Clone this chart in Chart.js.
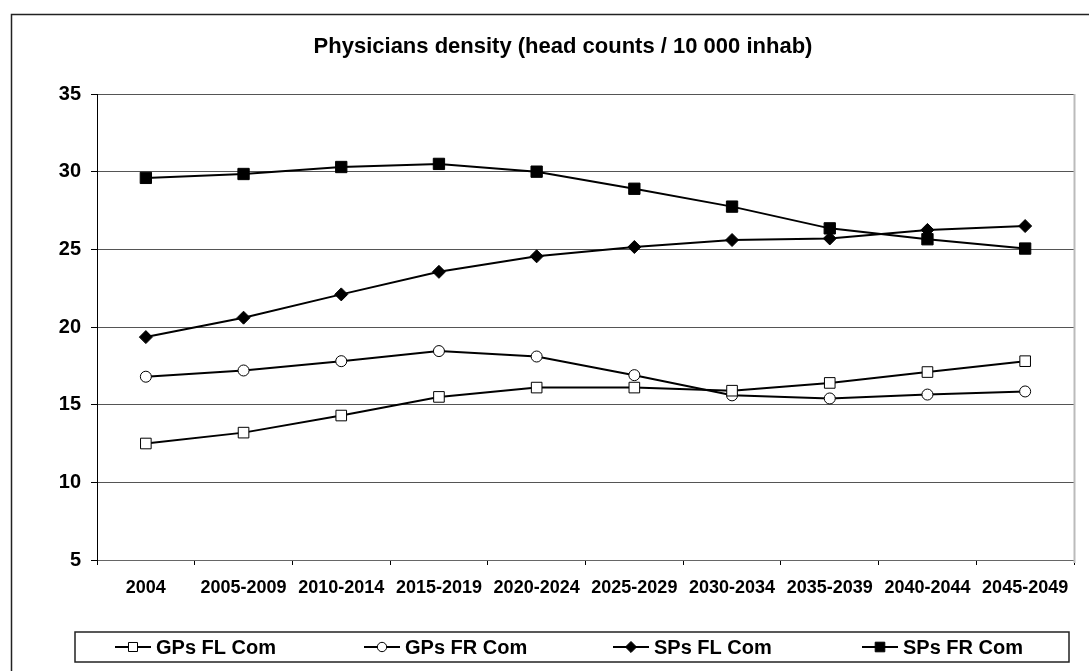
<!DOCTYPE html>
<html>
<head>
<meta charset="utf-8">
<script src="https://cdn.jsdelivr.net/npm/chart.js@4/dist/chart.umd.min.js"></script>
<style>
  html, body { margin: 0; padding: 0; background: #fff; }
</style>
</head>
<body>
<canvas id="densityChart" width="1089" height="671"></canvas>
<script>
const periods = ["2004", "2005-2009", "2010-2014", "2015-2019", "2020-2024",
                 "2025-2029", "2030-2034", "2035-2039", "2040-2044", "2045-2049"];
const gpsFlCom = [12.5, 13.2, 14.3, 15.5, 16.1, 16.1, 15.9, 16.4, 17.1, 17.8];
const gpsFrCom = [16.8, 17.2, 17.8, 18.45, 18.1, 16.9, 15.6, 15.4, 15.65, 15.85];
const spsFlCom = [19.35, 20.6, 22.1, 23.55, 24.55, 25.15, 25.6, 25.7, 26.25, 26.5];
const spsFrCom = [29.6, 29.85, 30.3, 30.5, 30.0, 28.9, 27.75, 26.35, 25.65, 25.05];
const yTicks = [5, 10, 15, 20, 25, 30, 35];

const chartTitle = "Physicians density (head counts / 10 000 inhab)";
const FONT = "'Liberation Sans', Arial, sans-serif";

function series(label, data, style, radius, fill) {
    return {
        label: label,
        data: data,
        borderColor: '#000',
        borderWidth: 2,
        pointStyle: style,
        pointRadius: radius,
        pointBackgroundColor: fill,
        pointBorderColor: '#000',
        pointBorderWidth: 1,
        tension: 0,
        fill: false
    };
}

// draws the frame, title and boxed legend the way the original does
const decorations = {
    id: 'decorations',
    afterDraw(chart) {
        const ctx = chart.ctx;
        const area = chart.chartArea;
        ctx.save();

        // outer frame (cut off on the right and bottom)
        ctx.strokeStyle = '#222';
        ctx.lineWidth = 1.5;
        ctx.strokeRect(11.5, 14.5, 1200, 800);

        // light right edge of the plot area
        ctx.strokeStyle = '#bbb';
        ctx.lineWidth = 2;
        ctx.beginPath();
        ctx.moveTo(area.right + 0.5, area.top);
        ctx.lineTo(area.right + 0.5, area.bottom + 3);
        ctx.stroke();

        // title
        ctx.fillStyle = '#000';
        ctx.font = 'bold 22px ' + FONT;
        ctx.textAlign = 'center';
        ctx.textBaseline = 'middle';
        ctx.fillText(chartTitle, 563, 47);

        // legend box
        ctx.strokeStyle = '#222';
        ctx.lineWidth = 1.5;
        ctx.strokeRect(75, 632, 994, 30);

        const startX = [115, 364, 613, 862];
        const midY = 647;
        ctx.font = 'bold 20px ' + FONT;
        ctx.textAlign = 'left';
        chart.data.datasets.forEach((ds, i) => {
            const x = startX[i];
            ctx.strokeStyle = '#000';
            ctx.lineWidth = 2;
            ctx.beginPath();
            ctx.moveTo(x, midY);
            ctx.lineTo(x + 36, midY);
            ctx.stroke();
            ctx.fillStyle = ds.pointBackgroundColor;
            ctx.strokeStyle = '#000';
            ctx.lineWidth = 1;
            Chart.helpers.drawPoint(ctx, {
                pointStyle: ds.pointStyle,
                radius: ds.pointRadius * 0.85,
                rotation: 0,
                borderWidth: 1
            }, x + 18, midY);
            ctx.fillStyle = '#000';
            ctx.fillText(ds.label, x + 41, midY + 1);
        });
        ctx.restore();
    }
};

const chart = new Chart(document.getElementById('densityChart').getContext('2d'), {
    type: 'line',
    data: {
        labels: periods,
        datasets: [
            series('GPs FL Com', gpsFlCom, 'rect', 7.5, '#fff'),
            series('GPs FR Com', gpsFrCom, 'circle', 5.5, '#fff'),
            series('SPs FL Com', spsFlCom, 'rectRot', 6.5, '#000'),
            series('SPs FR Com', spsFrCom, 'rect', 8, '#000')
        ]
    },
    options: {
        responsive: false,
        animation: false,
        layout: { padding: { left: 0, top: 94, right: 15, bottom: 71 } },
        plugins: {
            legend: { display: false },
            title: { display: false },
            tooltip: { enabled: false }
        },
        scales: {
            x: {
                offset: true,
                grid: { offset: true, drawOnChartArea: false, tickLength: 5, tickColor: '#000' },
                border: { color: '#666', width: 1 },
                ticks: {
                    color: '#000',
                    font: { family: FONT, size: 18, weight: 'bold' },
                    padding: 12,
                    maxRotation: 0,
                    autoSkip: false
                },
                afterFit: s => { s.height = 40; }
            },
            y: {
                min: yTicks[0],
                max: yTicks[yTicks.length - 1],
                ticks: {
                    stepSize: 5,
                    color: '#000',
                    font: { family: FONT, size: 20, weight: 'bold' },
                    padding: 10
                },
                grid: { color: '#555', tickColor: '#000', tickLength: 6 },
                border: { color: '#000', width: 1 },
                afterFit: s => { s.width = 97; }
            }
        }
    },
    plugins: [decorations]
});
</script>
</body>
</html>
